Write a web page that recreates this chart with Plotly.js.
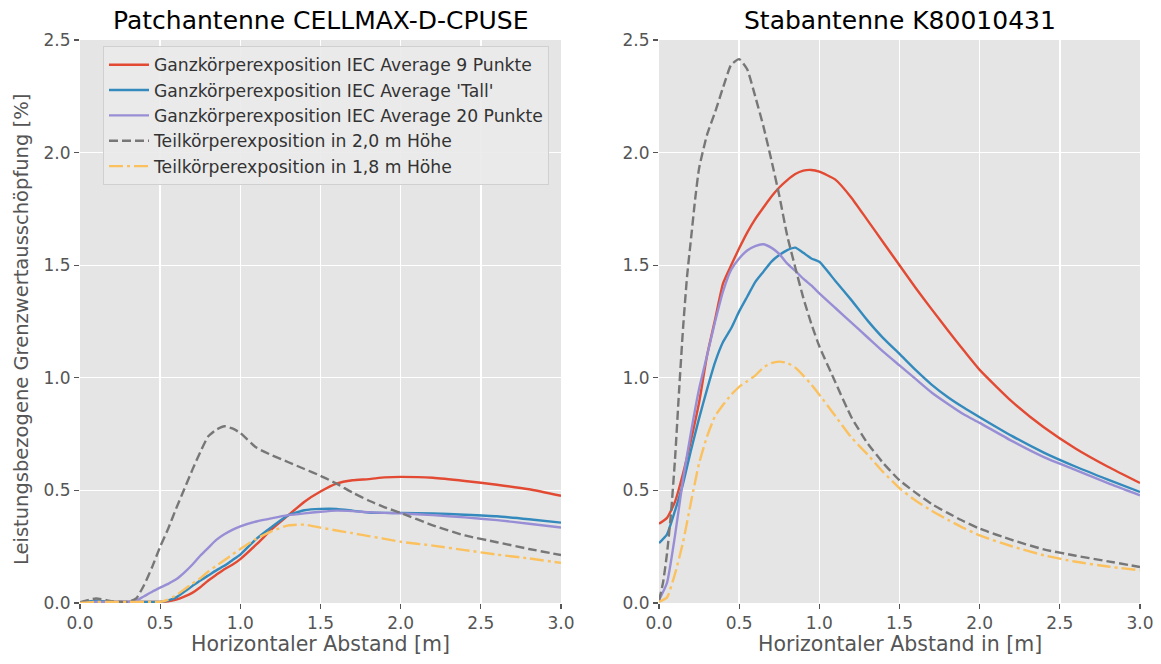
<!DOCTYPE html>
<html>
<head>
<meta charset="utf-8">
<script src="https://cdn.plot.ly/plotly-3.0.1.min.js"></script>
<style>html,body{margin:0;padding:0;background:#fff;}#chart{width:1161px;height:664px;}</style>
</head>
<body>
<div id="chart"></div>
<script>
// ---- Data ----
const seriesNames = [
  "Ganzkörperexposition IEC Average 9 Punkte",
  "Ganzkörperexposition IEC Average 'Tall'",
  "Ganzkörperexposition IEC Average 20 Punkte",
  "Teilkörperexposition in 2,0 m Höhe",
  "Teilkörperexposition in 1,8 m Höhe"
];
const xTicks = [0.0, 0.5, 1.0, 1.5, 2.0, 2.5, 3.0];
const yTicks = [0.0, 0.5, 1.0, 1.5, 2.0, 2.5];

// Left panel: Patchantenne CELLMAX-D-CPUSE
const xPatch = [0, 0.1, 0.2, 0.3, 0.35, 0.4, 0.45, 0.5, 0.55, 0.6, 0.65, 0.7, 0.75, 0.8, 0.85, 0.9, 0.95, 1.0, 1.1, 1.2, 1.3, 1.4, 1.5, 1.6, 1.7, 1.8, 1.9, 2.0, 2.2, 2.4, 2.6, 2.8, 3.0];
const patchAvg9   = [0, 0.005, 0.005, 0.005, 0.005, 0.005, 0.005, 0.005, 0.007, 0.015, 0.028, 0.045, 0.07, 0.10, 0.125, 0.15, 0.17, 0.195, 0.26, 0.33, 0.39, 0.45, 0.495, 0.53, 0.545, 0.55, 0.558, 0.56, 0.556, 0.542, 0.525, 0.505, 0.476];
const patchTall   = [0, 0.01, 0.005, 0.005, 0.005, 0.005, 0.005, 0.005, 0.012, 0.025, 0.05, 0.075, 0.10, 0.122, 0.145, 0.165, 0.19, 0.215, 0.285, 0.34, 0.39, 0.412, 0.418, 0.418, 0.41, 0.402, 0.40, 0.40, 0.398, 0.392, 0.385, 0.372, 0.357];
const patchAvg20  = [0, 0.005, 0.005, 0.005, 0.01, 0.03, 0.05, 0.068, 0.085, 0.105, 0.135, 0.17, 0.21, 0.245, 0.28, 0.305, 0.325, 0.34, 0.362, 0.377, 0.39, 0.398, 0.405, 0.41, 0.408, 0.403, 0.40, 0.398, 0.39, 0.38, 0.368, 0.352, 0.335];
const patchH20    = [0.003, 0.02, 0.008, 0.005, 0.02, 0.08, 0.16, 0.25, 0.33, 0.42, 0.505, 0.59, 0.67, 0.74, 0.77, 0.785, 0.775, 0.755, 0.69, 0.655, 0.625, 0.595, 0.565, 0.53, 0.49, 0.455, 0.425, 0.40, 0.345, 0.30, 0.27, 0.24, 0.213];
const patchH18    = [0, 0.005, 0.005, 0.005, 0.005, 0.005, 0.005, 0.005, 0.015, 0.035, 0.06, 0.086, 0.11, 0.14, 0.165, 0.19, 0.215, 0.24, 0.285, 0.32, 0.345, 0.348, 0.335, 0.322, 0.31, 0.297, 0.285, 0.272, 0.255, 0.235, 0.215, 0.198, 0.178];

// Right panel: Stabantenne K80010431
const xStab = [0, 0.05, 0.1, 0.15, 0.2, 0.25, 0.3, 0.35, 0.4, 0.45, 0.5, 0.55, 0.6, 0.65, 0.7, 0.75, 0.8, 0.85, 0.9, 0.95, 1.0, 1.1, 1.2, 1.3, 1.4, 1.5, 1.6, 1.7, 1.8, 1.9, 2.0, 2.2, 2.4, 2.6, 2.8, 3.0];
const stabAvg9  = [0.352, 0.378, 0.45, 0.575, 0.725, 0.89, 1.10, 1.26, 1.42, 1.50, 1.575, 1.645, 1.705, 1.755, 1.804, 1.845, 1.878, 1.905, 1.92, 1.923, 1.915, 1.88, 1.80, 1.70, 1.60, 1.50, 1.40, 1.305, 1.212, 1.122, 1.035, 0.895, 0.78, 0.685, 0.605, 0.533];
const stabTall  = [0.266, 0.305, 0.41, 0.53, 0.68, 0.82, 0.95, 1.07, 1.16, 1.22, 1.295, 1.36, 1.425, 1.47, 1.515, 1.545, 1.567, 1.578, 1.555, 1.53, 1.515, 1.43, 1.345, 1.255, 1.175, 1.106, 1.035, 0.97, 0.915, 0.868, 0.825, 0.742, 0.668, 0.605, 0.548, 0.493];
const stabAvg20 = [0.012, 0.09, 0.30, 0.55, 0.76, 0.95, 1.10, 1.25, 1.385, 1.48, 1.53, 1.565, 1.585, 1.593, 1.578, 1.55, 1.507, 1.475, 1.44, 1.41, 1.375, 1.31, 1.245, 1.18, 1.115, 1.055, 0.995, 0.935, 0.885, 0.838, 0.80, 0.72, 0.648, 0.59, 0.532, 0.478];
const stabH18   = [0.005, 0.025, 0.13, 0.27, 0.45, 0.62, 0.74, 0.83, 0.88, 0.925, 0.96, 0.985, 1.01, 1.045, 1.065, 1.072, 1.066, 1.045, 1.01, 0.97, 0.925, 0.83, 0.735, 0.66, 0.58, 0.51, 0.455, 0.41, 0.37, 0.333, 0.30, 0.252, 0.212, 0.183, 0.162, 0.145];
const xStabH20  = [0, 0.025, 0.05, 0.075, 0.1, 0.125, 0.15, 0.175, 0.2, 0.225, 0.25, 0.3, 0.35, 0.4, 0.45, 0.5, 0.55, 0.6, 0.65, 0.7, 0.75, 0.8, 0.85, 0.9, 0.95, 1.0, 1.1, 1.2, 1.3, 1.4, 1.5, 1.6, 1.7, 1.8, 1.9, 2.0, 2.2, 2.4, 2.6, 2.8, 3.0];
const stabH20   = [0.01, 0.09, 0.22, 0.40, 0.64, 0.94, 1.22, 1.45, 1.62, 1.79, 1.93, 2.08, 2.18, 2.29, 2.39, 2.415, 2.37, 2.25, 2.12, 1.97, 1.81, 1.63, 1.49, 1.355, 1.24, 1.14, 0.98, 0.825, 0.71, 0.62, 0.545, 0.49, 0.44, 0.40, 0.363, 0.33, 0.28, 0.238, 0.21, 0.185, 0.16];

// ---- Styles ----
const colors = ["#E24A33", "#348ABD", "#988ED5", "#777777", "#FBC15E"];
const dashes = ["solid", "solid", "solid", "9px,4px", "14px,4px,3px,4px"];
const FONT = "DejaVu Sans, Liberation Sans, sans-serif";
const W = 1161, H = 664;
const px = v => v / W, py = v => 1 - v / H;

function mk(x, y, i, axis, showLegend) {
  return {
    x: x, y: y, type: "scatter", mode: "lines",
    name: seriesNames[i], legendgroup: "g" + i, showlegend: showLegend,
    xaxis: axis === 1 ? "x" : "x2", yaxis: axis === 1 ? "y" : "y2",
    line: {color: colors[i], width: 2.4, dash: dashes[i], shape: "spline", smoothing: 0.5},
    hoverinfo: "skip"
  };
}

const traces = [
  mk(xPatch, patchAvg9, 0, 1, true),
  mk(xPatch, patchTall, 1, 1, true),
  mk(xPatch, patchAvg20, 2, 1, true),
  mk(xPatch, patchH20, 3, 1, true),
  mk(xPatch, patchH18, 4, 1, true),
  mk(xStab, stabAvg9, 0, 2, false),
  mk(xStab, stabTall, 1, 2, false),
  mk(xStab, stabAvg20, 2, 2, false),
  mk(xStabH20, stabH20, 3, 2, false),
  mk(xStab, stabH18, 4, 2, false)
];

function xax(d0, d1, anchor) {
  return {
    domain: [px(d0), px(d1)], anchor: anchor, range: [0, 3],
    tickmode: "array", tickvals: xTicks, ticktext: xTicks.map(v => v.toFixed(1)),
    showgrid: true, gridcolor: "#FFFFFF", gridwidth: 1.4, zeroline: false,
    showline: false, ticks: "outside", ticklen: 5, tickwidth: 1.2, tickcolor: "#555555",
    tickfont: {family: FONT, size: 17, color: "#555555"}, automargin: false, fixedrange: true
  };
}
function yax(anchor) {
  return {
    domain: [py(603), py(40)], anchor: anchor, range: [0, 2.5],
    tickmode: "array", tickvals: yTicks, ticktext: yTicks.map(v => v.toFixed(1)),
    showgrid: true, gridcolor: "#FFFFFF", gridwidth: 1.4, zeroline: false,
    showline: false, ticks: "outside", ticklen: 5, tickwidth: 1.2, tickcolor: "#555555",
    tickfont: {family: FONT, size: 17, color: "#555555"}, automargin: false, fixedrange: true
  };
}

const layout = {
  width: W, height: H,
  margin: {l: 0, r: 0, t: 0, b: 0},
  paper_bgcolor: "#FFFFFF", plot_bgcolor: "#E5E5E5",
  font: {family: FONT, color: "#333333"},
  xaxis: xax(80, 561, "y"),
  yaxis: yax("x"),
  xaxis2: xax(659, 1140, "y2"),
  yaxis2: yax("x2"),
  showlegend: true,
  legend: {
    x: px(103), y: py(46), xanchor: "left", yanchor: "top",
    bgcolor: "rgba(234,234,234,0.9)", bordercolor: "#D0D0D0", borderwidth: 1,
    font: {family: FONT, size: 17.2, color: "#333333"},
    tracegroupgap: 0, itemwidth: 40
  },
  annotations: [
    {text: "Patchantenne CELLMAX-D-CPUSE", xref: "paper", yref: "paper", x: px(320.5), y: py(21), xanchor: "center", yanchor: "middle", showarrow: false, font: {family: FONT, size: 25, color: "#000000"}},
    {text: "Stabantenne K80010431", xref: "paper", yref: "paper", x: px(899.5), y: py(21), xanchor: "center", yanchor: "middle", showarrow: false, font: {family: FONT, size: 25, color: "#000000"}},
    {text: "Horizontaler Abstand [m]", xref: "paper", yref: "paper", x: px(320.5), y: py(644), xanchor: "center", yanchor: "middle", showarrow: false, font: {family: FONT, size: 20.5, color: "#555555"}},
    {text: "Horizontaler Abstand in [m]", xref: "paper", yref: "paper", x: px(899.5), y: py(644), xanchor: "center", yanchor: "middle", showarrow: false, font: {family: FONT, size: 20.5, color: "#555555"}},
    {text: "Leistungsbezogene Grenzwertausschöpfung [%]", xref: "paper", yref: "paper", x: px(21), y: py(330), xanchor: "center", yanchor: "middle", textangle: -90, showarrow: false, font: {family: FONT, size: 19.5, color: "#555555"}}
  ]
};

Plotly.newPlot("chart", traces, layout, {staticPlot: true, displayModeBar: false});
</script>
</body>
</html>
